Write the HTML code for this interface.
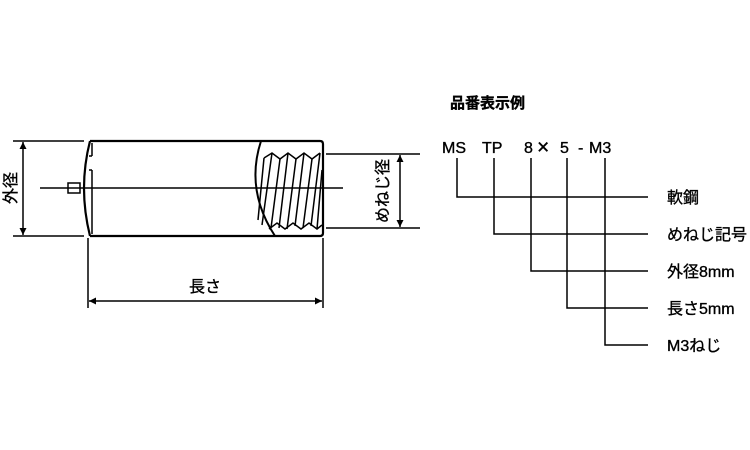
<!DOCTYPE html>
<html><head><meta charset="utf-8"><style>
html,body{margin:0;padding:0;background:#fff;}
svg{display:block;}
text{font-family:"Liberation Sans","Noto Sans CJK JP",sans-serif;fill:#000;stroke:#000;stroke-width:0.35;}
</style></head><body>
<svg width="750" height="450" viewBox="0 0 750 450" xmlns="http://www.w3.org/2000/svg">
<defs>
<marker id="a" viewBox="0 0 10 10" refX="10" refY="5" markerWidth="10" markerHeight="7" orient="auto-start-reverse" markerUnits="userSpaceOnUse"><path d="M0,0 L10,5 L0,10 z" fill="#000"/></marker>
</defs>
<g stroke="#000" fill="none" stroke-width="1.5">
<path d="M90,141 L320,141 Q323,141 323,144 L323,233 Q323,236 320,236 L90,236" stroke-width="2.2"/>
<path d="M90,141 Q78,188 90,236" stroke-width="2.2"/>
<line x1="92" y1="143" x2="92" y2="156"/>
<line x1="92" y1="170" x2="92" y2="234"/>
<path d="M89,156 L92,156 M89,170 L92,170"/>
<rect x="68" y="183" width="12" height="10"/>
<line x1="40" y1="188" x2="343" y2="188"/>
<path d="M261,141 Q245,190 275,236" stroke-width="2"/>
<path d="M264,158 L272,153 L280,159 L288,153 L296,159 L304,153 L312,159 L320,153"/>
<path d="M269,229 L277,223 L285,229 L293,223 L301,229 L309,223 L317,229 L322,225"/>
<path d="M264,158 L258,220 M272,153 L262,225 M280,159 L271,228 M288,153 L279,228 M296,159 L287,229 M304,153 L295,226 M312,159 L303,228 M320,153 L311,226 M322,170 L317,229"/>
<line x1="13" y1="141" x2="84" y2="141"/>
<line x1="13" y1="236" x2="84" y2="236"/>
<line x1="23" y1="142" x2="23" y2="235" marker-start="url(#a)" marker-end="url(#a)"/>
<line x1="326" y1="154" x2="420" y2="154"/>
<line x1="326" y1="228" x2="420" y2="228"/>
<line x1="400" y1="155" x2="400" y2="227" marker-start="url(#a)" marker-end="url(#a)"/>
<line x1="88" y1="238" x2="88" y2="308"/>
<line x1="323" y1="238" x2="323" y2="308"/>
<line x1="89" y1="301" x2="322" y2="301" marker-start="url(#a)" marker-end="url(#a)"/>
<path d="M457,158 V197 H648"/>
<path d="M494,158 V234 H648"/>
<path d="M531,158 V271 H648"/>
<path d="M567,158 V308 H648"/>
<path d="M605,158 V345 H648"/>
</g>
<text x="12" y="188" font-size="16" text-anchor="middle" transform="rotate(-90 12 188)" dominant-baseline="middle">外径</text>
<text x="384" y="191" font-size="16" text-anchor="middle" transform="rotate(-90 384 191)" dominant-baseline="middle">めねじ径</text>
<text x="205" y="292" font-size="16" text-anchor="middle">長さ</text>
<text x="450" y="108" font-size="15" font-weight="bold">品番表示例</text>
<text x="442" y="153" font-size="16">MS</text>
<text x="482" y="153" font-size="16">TP</text>
<text x="524" y="153" font-size="16">8</text>
<text x="537" y="154" font-size="21">×</text>
<text x="560" y="153" font-size="16">5</text>
<text x="578" y="153" font-size="16">-</text>
<text x="589" y="153" font-size="16">M3</text>
<text x="667" y="203" font-size="16">軟鋼</text>
<text x="667" y="240" font-size="16">めねじ記号</text>
<text x="667" y="277" font-size="16">外径8mm</text>
<text x="667" y="314" font-size="16">長さ5mm</text>
<text x="667" y="351" font-size="16">M3ねじ</text>
</svg>
</body></html>
